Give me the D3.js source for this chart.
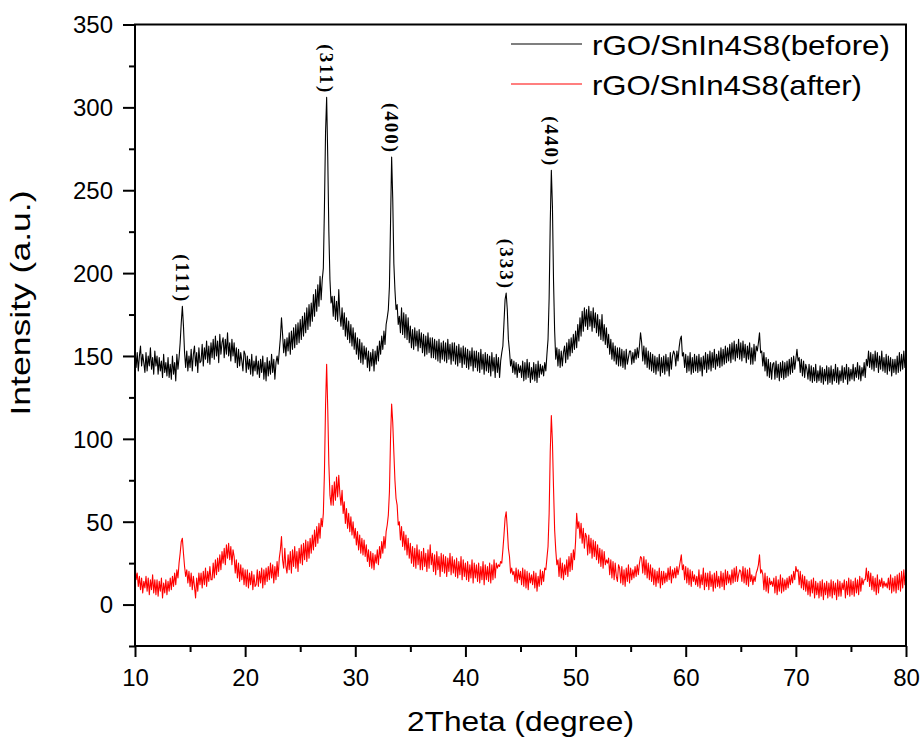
<!DOCTYPE html>
<html lang="en">

<head>
  <meta charset="UTF-8">
  <title>XRD rGO/SnIn4S8</title>
  <script type="text/javascript" src="https://d3js.org/d3.v7.min.js"></script>
  <style>
    body { margin: 0; background: #fff; }
    text { font-family: "Liberation Sans", Arial, sans-serif; }
  </style>
</head>

<body>
</body>
<script>
  // 2theta grid, 0.1 degree step from 10 to 80
  const twoTheta = d3.range(0, 701).map(i => Math.round((10 + i / 10) * 10) / 10);

  // intensity before (black), one row per degree
  const before = [
    155,143,152,141,150,156,144,151,146,140, // 10
    152,141,150,144,155,142,149,139,153,144, // 11
    150,139,149,141,147,137,151,140,146,138, // 12
    149,137,145,136,150,139,146,135,151,142, // 13
    149,158,170,180,168,152,143,153,141,150, // 14
    143,154,141,151,156,144,152,140,155,146, // 15
    147,157,144,155,148,159,146,156,145,158, // 16
    149,160,148,162,150,159,146,163,151,158, // 17
    161,149,160,151,164,150,158,147,160,150, // 18
    158,146,155,143,154,144,152,147,141,153, // 19
    151,140,150,142,148,139,151,138,147,141, // 20
    150,139,147,137,148,140,150,136,146,135, // 21
    149,138,147,139,151,140,148,136,146,150, // 22
    145,153,161,173,163,152,160,150,161,153, // 23
    164,151,165,154,167,155,169,157,170,158, // 24
    172,160,174,162,176,164,179,166,181,168, // 25
    182,171,187,174,190,177,193,180,198,184, // 26
    196,203,240,285,306,270,225,196,182,186, // 27
    174,186,172,183,171,190,175,168,179,166, // 28
    176,162,173,160,171,158,169,156,167,154, // 29
    164,151,161,148,160,146,158,145,156,148, // 30
    155,143,153,141,152,144,154,141,153,145, // 31
    156,147,159,151,162,154,165,157,169,173, // 32
    178,192,230,270,245,206,190,178,181,169, // 33
    174,164,179,163,176,161,175,160,173,158, // 34
    168,155,166,154,167,156,165,153,166,155, // 35
    164,152,163,150,162,151,164,152,161,149, // 36
    161,149,160,148,159,147,160,146,158,148, // 37
    159,147,158,146,160,148,157,145,158,147, // 38
    158,145,156,144,157,146,155,143,156,145, // 39
    155,143,154,142,153,144,155,141,153,143, // 40
    153,141,152,140,154,142,151,139,152,141, // 41
    151,140,150,138,152,141,149,137,151,140, // 42
    149,137,147,152,156,170,184,188,178,160, // 43
    153,144,148,140,147,139,146,137,145,140, // 44
    144,137,147,135,146,136,148,137,146,134, // 45
    143,136,146,135,145,134,147,137,145,139, // 46
    144,138,146,141,151,160,185,230,262,240, // 47
    195,165,148,155,144,154,143,153,144,152, // 48
    156,146,158,148,160,150,161,152,163,154, // 49
    165,155,169,159,173,162,177,165,179,168, // 50
    178,166,180,168,177,165,179,167,176,164, // 51
    175,162,172,160,175,159,169,157,167,155, // 52
    163,151,160,148,158,147,156,145,155,144, // 53
    155,144,154,143,153,142,154,145,149,153, // 54
    153,145,152,146,154,148,155,149,156,164, // 55
    158,147,156,145,155,143,153,142,152,141, // 56
    151,140,150,139,149,141,151,138,149,140, // 57
    150,139,151,141,149,138,152,142,150,153, // 58
    151,144,153,147,155,160,162,150,152,143, // 59
    151,140,150,141,152,139,149,140,151,141, // 60
    150,140,151,141,149,138,150,142,152,140, // 61
    151,142,153,141,152,143,154,142,151,144, // 62
    153,143,155,144,154,145,156,146,155,147, // 63
    157,146,158,148,159,147,157,149,160,148, // 64
    158,147,159,149,157,146,156,148,158,145, // 65
    155,145,157,147,156,153,158,164,152,153, // 66
    144,152,141,149,138,148,137,146,136,145, // 67
    146,136,147,137,145,135,146,137,147,136, // 68
    146,137,147,138,148,139,149,140,150,142, // 69
    148,154,147,149,140,148,138,147,137,145, // 70
    142,136,145,135,144,134,143,135,145,134, // 71
    141,135,144,134,143,133,142,135,144,133, // 72
    143,134,144,133,142,135,145,134,143,133, // 73
    141,135,144,134,143,136,145,133,143,135, // 74
    142,136,145,135,143,137,146,136,144,135, // 75
    143,138,146,137,148,144,153,143,152,142, // 76
    151,141,153,143,152,140,150,142,153,141, // 77
    149,140,151,139,150,141,149,138,148,140, // 78
    148,139,150,140,152,141,151,142,153,143, // 79
    148                                      // 80
  ];

  // intensity after (red), one row per degree
  const after = [
    26,15,19,11,17,9,16,7,14,10,     // 10
    17,8,16,6,15,9,18,7,15,6,        // 11
    15,5,14,8,16,4,13,7,15,6,        // 12
    14,8,16,9,17,11,19,12,21,16,     // 13
    25,31,38,40,31,23,17,21,13,20,   // 14
    11,19,9,17,11,4,16,8,19,12,      // 15
    19,10,20,12,22,11,20,14,23,15,   // 16
    15,25,16,27,18,28,20,30,21,32,   // 17
    25,34,24,36,28,37,27,35,24,33,   // 18
    29,19,27,16,25,14,24,15,22,12,   // 19
    21,11,21,10,19,12,20,9,18,11,    // 20
    12,21,11,20,13,22,10,21,12,22,   // 21
    14,23,15,25,16,24,13,23,15,26,   // 22
    17,28,33,41,27,22,34,23,19,30,   // 23
    21,32,19,33,23,35,22,32,20,34,   // 24
    25,36,24,37,27,39,26,38,28,40,   // 25
    31,42,33,45,35,47,37,49,40,52,   // 26
    47,55,80,120,145,118,85,66,60,72, // 27
    60,74,63,77,65,78,67,60,69,55,   // 28
    62,49,58,46,55,44,53,42,50,40,   // 29
    46,36,44,33,42,31,40,30,39,29,   // 30
    36,26,33,23,32,22,31,21,30,25,   // 31
    33,24,35,28,38,31,41,34,44,48,   // 32
    54,68,100,121,110,92,75,64,60,48, // 33
    50,39,47,35,44,33,42,30,40,28,   // 34
    37,25,35,23,34,22,36,24,33,21,   // 35
    32,21,34,23,31,20,33,22,36,24,   // 36
    31,20,30,18,32,21,29,17,31,20,   // 37
    30,19,29,17,28,20,31,18,29,19,   // 38
    27,17,28,16,26,18,29,15,27,17,   // 39
    25,15,26,14,24,16,27,13,25,16,   // 40
    24,14,25,13,23,15,26,12,24,15,   // 41
    23,14,25,13,24,15,27,16,25,22,   // 42
    24,23,26,25,33,42,52,56,46,34,   // 43
    29,19,22,18,20,14,22,13,21,15,   // 44
    20,12,22,11,21,10,20,9,19,13,    // 45
    18,12,20,10,19,8,17,11,21,12,    // 46
    20,14,22,21,28,35,55,92,114,98,  // 47
    70,45,33,24,27,17,28,16,25,15,   // 48
    24,18,27,17,29,20,31,21,33,27,   // 49
    38,55,46,50,40,49,37,46,34,43,   // 50
    41,30,42,31,40,28,39,29,38,27,   // 51
    36,25,34,23,33,22,32,24,27,25,   // 52
    28,18,27,16,26,15,25,17,14,24,   // 53
    22,13,23,12,21,11,22,14,24,13,   // 54
    22,15,21,16,23,17,24,18,25,29,   // 55
    28,19,29,18,27,16,25,15,24,14,   // 56
    22,12,21,11,20,13,22,10,20,12,   // 57
    20,13,19,14,22,15,23,13,21,16,   // 58
    22,16,23,18,22,26,30,21,24,15,   // 59
    23,13,22,12,21,11,20,14,18,12,   // 60
    17,11,21,10,18,12,22,9,19,11,    // 61
    19,9,20,11,18,8,19,10,20,11,     // 62
    17,10,20,11,19,9,21,12,20,13,    // 63
    18,12,21,13,22,14,23,14,18,21,   // 64
    20,14,23,13,22,12,21,11,22,14,   // 65
    18,12,17,14,19,21,24,30,19,21,   // 66
    18,9,19,8,17,7,16,12,14,11,      // 67
    16,7,17,6,15,8,18,7,16,8,        // 68
    15,9,16,10,17,12,18,13,20,15,    // 69
    23,20,21,12,20,10,18,9,17,8,     // 70
    15,6,14,5,15,7,16,4,14,6,        // 71
    13,4,14,5,15,3,13,6,14,4,        // 72
    13,5,15,4,14,6,13,3,15,5,        // 73
    14,5,13,9,15,4,14,6,16,5,        // 74
    15,6,14,5,16,7,15,6,17,8,        // 75
    16,12,15,15,22,14,20,11,19,9,    // 76
    17,8,16,6,18,7,15,11,16,10,      // 77
    14,11,13,10,16,9,18,7,16,8,      // 78
    17,7,18,9,19,8,20,10,21,12,      // 79
    22                               // 80
  ];

  const seriesNames = ["rGO/SnIn4S8(before)", "rGO/SnIn4S8(after)"];
  const seriesColors = ["#000000", "#ff0000"];
  const legendLen = [298, 270];

  // peak labels
  const peakNames = ["(111)", "(311)", "(400)", "(333)", "(440)"];
  const peakPos = [14.3, 27.4, 33.3, 43.7, 47.8];
  const peakTop = [180, 306, 270, 188, 262];

  const xTicks = [10, 20, 30, 40, 50, 60, 70, 80];
  const xMinor = [15, 25, 35, 45, 55, 65, 75];
  const yTicks = [0, 50, 100, 150, 200, 250, 300, 350];
  const yMinor = [-25, 25, 75, 125, 175, 225, 275, 325];

  const width = 923
  const height = 744
  const marge = { top: 24.5, bottom: 98, left: 135, right: 17 };

  const svg = d3.select("body")
    .append("svg")
    .attr("width", width)
    .attr("height", height)

  const x = d3.scaleLinear().domain([10, 80]).range([marge.left, width - marge.right]);
  const y = d3.scaleLinear().domain([-25, 350]).range([height - marge.bottom, marge.top]);

  //曲线
  const line = d3.line()
    .x((d, i) => x(twoTheta[i]))
    .y(d => y(d));

  [before, after].forEach((data, k) => {
    svg.append("path")
      .datum(data)
      .attr("d", line)
      .attr("fill", "none")
      .attr("stroke", seriesColors[k])
      .attr("stroke-width", 1.1)
      .attr("stroke-linejoin", "round");
  });

  //坐标轴
  const xAxis = svg.append("g")
    .attr("transform", "translate(0," + y(-25) + ")")
    .call(d3.axisBottom(x).tickValues(xTicks).tickSize(11).tickPadding(12).tickFormat(d3.format("d")));
  svg.append("g")
    .attr("transform", "translate(0," + y(-25) + ")")
    .call(d3.axisBottom(x).tickValues(xMinor).tickSize(6).tickFormat(""));
  const yAxis = svg.append("g")
    .attr("transform", "translate(" + x(10) + ",0)")
    .call(d3.axisLeft(y).tickValues(yTicks).tickSize(12).tickPadding(10).tickFormat(d3.format("d")));
  svg.append("g")
    .attr("transform", "translate(" + x(10) + ",0)")
    .call(d3.axisLeft(y).tickValues(yMinor).tickSize(6).tickFormat(""));

  svg.selectAll(".domain").remove();
  svg.selectAll(".tick line").attr("stroke", "#000").attr("stroke-width", 2);
  svg.selectAll(".tick text")
    .attr("fill", "#000")
    .style("font-size", "24px")
    .style("font-family", "'Liberation Sans', Arial, sans-serif");
  xAxis.selectAll(".tick text").attr("dy", "0.71em");
  yAxis.selectAll(".tick text").attr("dy", "0.35em");

  //边框
  svg.append("rect")
    .attr("x", x(10))
    .attr("y", y(350))
    .attr("width", x(80) - x(10))
    .attr("height", y(-25) - y(350))
    .attr("fill", "none")
    .attr("stroke", "#000")
    .attr("stroke-width", 2);

  //峰标注
  peakNames.forEach((name, i) => {
    const px = x(peakPos[i]);
    const py = y(peakTop[i]) - 3;
    svg.append("text")
      .attr("transform", "translate(" + px + "," + py + ") rotate(90)")
      .attr("text-anchor", "end")
      .attr("dominant-baseline", "central")
      .style("font-family", "'Liberation Serif', 'Times New Roman', serif")
      .style("font-size", "19px")
      .style("font-weight", "bold")
      .style("letter-spacing", "2px")
      .text(name);
  });

  //图例
  seriesNames.forEach((name, k) => {
    const ly = 44 + k * 40;
    svg.append("line")
      .attr("x1", 511).attr("x2", 582)
      .attr("y1", ly).attr("y2", ly)
      .attr("stroke", seriesColors[k])
      .attr("stroke-width", 1.2);
    svg.append("text")
      .attr("x", 592)
      .attr("y", ly + 11)
      .attr("textLength", legendLen[k])
      .attr("lengthAdjust", "spacingAndGlyphs")
      .style("font-size", "28px")
      .text(name);
  });

  //坐标轴标题
  svg.append("text")
    .attr("x", (x(10) + x(80)) / 2)
    .attr("y", 731)
    .attr("text-anchor", "middle")
    .attr("textLength", 227)
    .attr("lengthAdjust", "spacingAndGlyphs")
    .style("font-size", "28px")
    .text("2Theta (degree)");
  svg.append("text")
    .attr("transform", "translate(30,303) rotate(-90)")
    .attr("text-anchor", "middle")
    .attr("textLength", 225)
    .attr("lengthAdjust", "spacingAndGlyphs")
    .style("font-size", "28px")
    .text("Intensity (a.u.)");
</script>

</html>
